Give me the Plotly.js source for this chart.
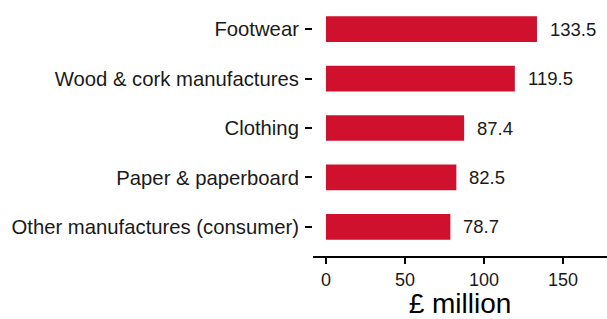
<!DOCTYPE html>
<html>
<head>
<meta charset="utf-8">
<script src="https://cdn.plot.ly/plotly-3.0.1.min.js"></script>
<style>html,body{margin:0;padding:0;background:#fff;}#chart{width:607px;height:319px;}</style>
</head>
<body>
<div id="chart"></div>
<script>
const categories = ["Footwear", "Wood & cork manufactures", "Clothing", "Paper & paperboard", "Other manufactures (consumer)"];
const values = [133.5, 119.5, 87.4, 82.5, 78.7];
const tickVals = [0, 50, 100, 150];

const barColor = "#CF112D";
const font = "Liberation Sans, Arial, sans-serif";

const trace = {
  type: "bar",
  orientation: "h",
  x: values,
  y: categories,
  width: 0.52,
  marker: {color: barColor},
  hoverinfo: "none"
};

const annotations = values.map((v, i) => ({
  x: v, y: categories[i], xref: "x", yref: "y",
  text: v.toFixed(1), showarrow: false,
  xanchor: "left", yanchor: "middle", xshift: 11,
  font: {family: font, size: 18.5, color: "#1a1a1a"}
}));

const layout = {
  width: 607, height: 319,
  margin: {l: 313, r: 0, t: 0, b: 63},
  paper_bgcolor: "#fff", plot_bgcolor: "#fff",
  showlegend: false,
  font: {family: font, size: 18, color: "#1a1a1a"},
  xaxis: {
    range: [-8.2, 177.8],
    tickvals: tickVals,
    ticktext: tickVals.map(String),
    showgrid: false, zeroline: false,
    showline: true, linecolor: "#000", linewidth: 2,
    ticks: "outside", ticklen: 6, tickwidth: 2, tickcolor: "#000",
    tickfont: {family: font, size: 18, color: "#1a1a1a"},
    title: {text: "£ million", font: {family: font, size: 28, color: "#000"}, standoff: 12}
  },
  yaxis: {
    type: "category",
    categoryorder: "array", categoryarray: categories,
    range: [4.59, -0.59],
    showgrid: false, zeroline: false, showline: false,
    ticks: "outside", ticklen: 7, tickwidth: 2, tickcolor: "#000",
    ticklabelstandoff: 2,
    tickfont: {family: font, size: 20.3, color: "#1a1a1a"}
  },
  annotations: annotations
};

Plotly.newPlot("chart", [trace], layout, {staticPlot: true, displayModeBar: false});
</script>
</body>
</html>
